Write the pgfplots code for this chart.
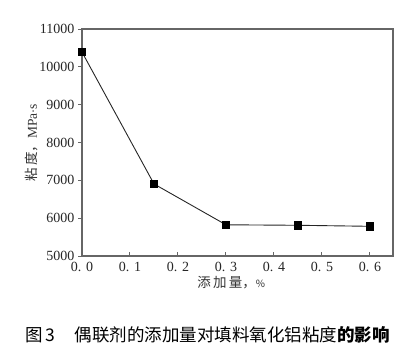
\documentclass[border=0pt]{standalone}
\usepackage{pgfplots}
\pgfplotsset{compat=1.18}
\usepackage{fontspec}
\setmainfont{Liberation Serif}
\newfontfamily\cjk{Noto Sans CJK SC}
\begin{document}
\begin{tikzpicture}[x=1pt,y=1pt]
\useasboundingbox (-82,-98) rectangle (337,256);
\begin{axis}[
  at={(0,0)}, anchor=south west,
  scale only axis, width=311pt, height=227pt,
  xmin=0, xmax=0.648, ymin=5000, ymax=11000,
  scaled y ticks=false,
  xtick={0,0.1,0.2,0.3,0.4,0.5,0.6},
  xticklabels={0. 0,0. 1,0. 2,0. 3,0. 4,0. 5,0. 6},
  ytick={5000,6000,7000,8000,9000,10000,11000},
  yticklabels={5000,6000,7000,8000,9000,10000,11000},
  xtick pos=bottom, ytick pos=left,
  tick align=outside,
  x tick style={yshift=4pt, black!60, line width=1pt},
  y tick style={black!60, line width=1pt},
  major tick length=4pt,
  axis line style={black!60, line width=1.3pt},
  ticklabel style={font=\fontsize{14}{14}\selectfont, text=black!85},
  xticklabel style={yshift=1pt},
  xlabel={\cjk 添\,加\,量，\fontsize{10}{10}\selectfont\%},
  xlabel style={font=\fontsize{13.5}{13.5}\selectfont, text=black!80, at={(axis description cs:0.48,0)}, anchor=center, yshift=-27pt},
  ylabel={\cjk 粘\,度，\rmfamily MPa$\cdot$s},
  ylabel style={font=\fontsize{13.5}{13.5}\selectfont, text=black!80, at={(axis description cs:-0.161,0.5)}, anchor=center, rotate=0},
  clip=false,
]
\addplot[black!85, line width=0.9pt, mark=square*, mark size=3.8pt, mark options={fill=black, draw=black, solid}]
  coordinates {(0,10390) (0.15,6905) (0.3,5825) (0.45,5812) (0.6,5785)};
\end{axis}
\node[font=\fontsize{17.5}{17.5}\selectfont\cjk, anchor=west] at (-60,-79) {图\,3};
\node[font=\fontsize{17.5}{17.5}\selectfont\cjk, anchor=west] at (-11,-79) {偶联剂的添加量对填料氧化铝粘度\textbf{的影响}};
\end{tikzpicture}
\end{document}
